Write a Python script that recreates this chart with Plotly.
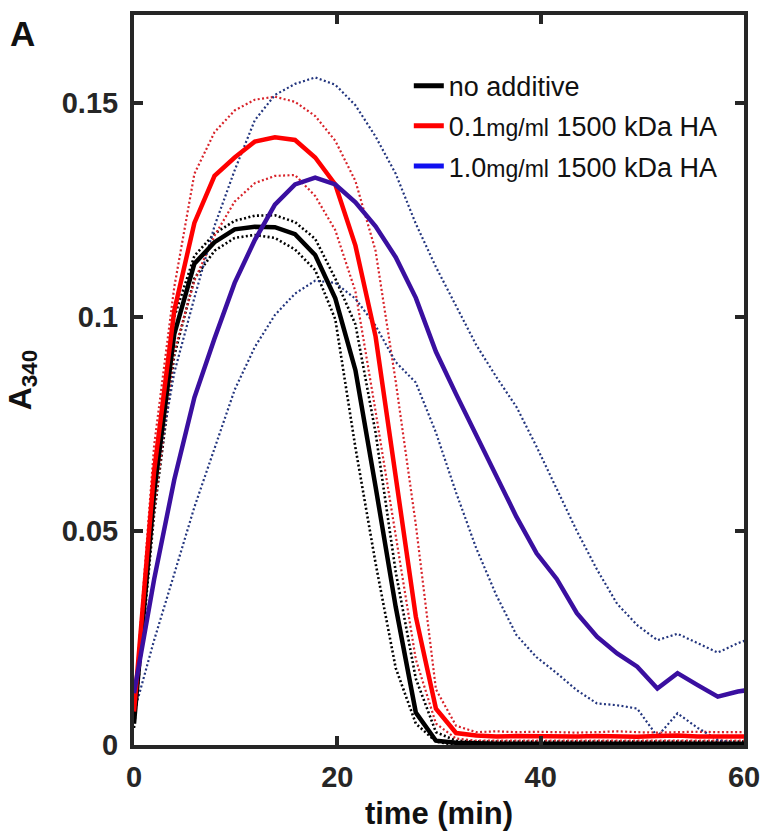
import plotly.graph_objects as go

# time (min), sampled every ~1.98 min
time = [0, 1.98, 3.96, 5.94, 7.92, 9.9, 11.88, 13.86, 15.84, 17.82, 19.8, 21.78,
        23.76, 25.74, 27.72, 29.7, 31.68, 33.66, 35.64, 37.62, 39.6, 41.58, 43.56,
        45.54, 47.52, 49.5, 51.48, 53.46, 55.44, 57.42, 59.4, 61.38]

# no additive
black_mean = [0.005, 0.059, 0.096, 0.1125, 0.1175, 0.1205, 0.1211, 0.121, 0.1194, 0.1145, 0.1044, 0.0876,
              0.0604, 0.0323, 0.0076, 0.001, 0.0005, 0.0003, 0.0003, 0.0003, 0.0003, 0.0003, 0.0003,
              0.0003, 0.0003, 0.0003, 0.0003, 0.0003, 0.0003, 0.0003, 0.0003, 0.0003]
black_hi = [0.006, 0.064, 0.1, 0.1143, 0.1195, 0.1225, 0.1237, 0.1238, 0.1222, 0.1183, 0.109, 0.0983,
            0.073, 0.0405, 0.0155, 0.003, 0.001, 0.0008, 0.0008, 0.0008, 0.0008, 0.0008, 0.0008,
            0.0008, 0.0008, 0.0008, 0.0008, 0.0008, 0.0008, 0.0008, 0.0008, 0.0008]
black_lo = [0.004, 0.054, 0.091, 0.109, 0.1155, 0.1185, 0.1192, 0.1185, 0.1158, 0.111, 0.0995, 0.0695,
            0.0425, 0.018, 0.005, 0.0008, 0.0, 0.0, 0.0, 0.0, 0.0, 0.0, 0.0,
            0.0, 0.0, 0.0, 0.0, 0.0, 0.0, 0.0, 0.0, 0.0]

# 0.1 mg/ml 1500 kDa HA
red_mean = [0.0078, 0.064, 0.1015, 0.122, 0.133, 0.1373, 0.141, 0.142, 0.1414, 0.1373, 0.131, 0.1167,
            0.0955, 0.062, 0.030, 0.0085, 0.0028, 0.0022, 0.002, 0.0021, 0.002, 0.0019, 0.002,
            0.0021, 0.002, 0.0019, 0.0021, 0.0022, 0.002, 0.0019, 0.002, 0.002]
red_hi = [0.008, 0.07, 0.107, 0.1335, 0.1432, 0.1483, 0.1508, 0.1515, 0.1503, 0.147, 0.1412, 0.1318,
          0.1155, 0.085, 0.0515, 0.013, 0.0045, 0.003, 0.0032, 0.003, 0.0031, 0.003, 0.0029,
          0.003, 0.0032, 0.003, 0.0029, 0.003, 0.0031, 0.003, 0.0029, 0.003]
red_lo = [0.007, 0.055, 0.092, 0.1085, 0.119, 0.127, 0.1313, 0.133, 0.1332, 0.1283, 0.1203, 0.106,
          0.078, 0.049, 0.02, 0.005, 0.0015, 0.001, 0.001, 0.001, 0.001, 0.001, 0.001,
          0.001, 0.001, 0.001, 0.001, 0.001, 0.001, 0.001, 0.001, 0.001]

# 1.0 mg/ml 1500 kDa HA
blue_mean = [0.0121, 0.0387, 0.062, 0.0812, 0.095, 0.108, 0.118, 0.1263, 0.131, 0.1326, 0.131, 0.1268,
             0.1212, 0.114, 0.1045, 0.0919, 0.082, 0.0725, 0.0628, 0.0533, 0.0448, 0.0388, 0.0308,
             0.0253, 0.0214, 0.0183, 0.0132, 0.0168, 0.014, 0.0113, 0.0125, 0.0132]
blue_hi = [0.0082, 0.06, 0.087, 0.1045, 0.1213, 0.1343, 0.146, 0.1519, 0.1545, 0.156, 0.1543, 0.1495,
           0.1422, 0.1335, 0.1218, 0.1117, 0.1026, 0.0935, 0.086, 0.079, 0.0697, 0.060, 0.050,
           0.041, 0.033, 0.028, 0.0245, 0.026, 0.0238, 0.0216, 0.0238, 0.0255]
blue_lo = [0.0075, 0.0245, 0.040, 0.0556, 0.0693, 0.083, 0.093, 0.1005, 0.1055, 0.1085, 0.108, 0.1043,
           0.098, 0.0895, 0.0847, 0.073, 0.059, 0.046, 0.035, 0.0257, 0.0205, 0.0168, 0.0128,
           0.0097, 0.0093, 0.0085, 0.002, 0.0074, 0.004, 0.0012, 0.0003, 0.0]

legend_names = ["no additive",
                '0.1<span style="font-size:23px">mg/ml</span> 1500 kDa HA',
                '1.0<span style="font-size:23px">mg/ml</span> 1500 kDa HA']
legend_colors = ["#000000", "#ff0000", "#1010f0"]

x_ticks = [0, 20, 40, 60]
y_ticks = [0, 0.05, 0.1, 0.15]
y_ticktext = ["0", "0.05", "0.1", "0.15"]

AX = "#262626"
FONT = "Liberation Sans, Arial, Helvetica, sans-serif"
DOT = "2px,2.4px"

fig = go.Figure()

bands = [
    (black_hi, black_lo, "#000000", 2.6),
    (red_hi, red_lo, "#d8232a", 2.2),
    (blue_hi, blue_lo, "#23357e", 2.2),
]
for hi, lo, col, w in bands:
    for arr in (hi, lo):
        fig.add_trace(go.Scatter(x=time, y=arr, mode="lines", showlegend=False,
                                 line=dict(color=col, width=w, dash=DOT)))

for arr, col in [(black_mean, "#000000"), (red_mean, "#ff0000"), (blue_mean, "#3a0fa0")]:
    fig.add_trace(go.Scatter(x=time, y=arr, mode="lines", showlegend=False,
                             line=dict(color=col, width=4.5)))

for i, (name, col) in enumerate(zip(legend_names, legend_colors)):
    fig.add_trace(go.Scatter(x=[None], y=[None], mode="lines", name=name,
                             legendgroup=f"g{i}", line=dict(color=col, width=5)))

fig.update_layout(
    width=766, height=837,
    margin=dict(l=134, r=22, t=15, b=92),
    plot_bgcolor="white", paper_bgcolor="white",
    font=dict(family=FONT, color=AX),
    legend=dict(x=0.4505, y=0.936, xanchor="left", yanchor="top",
                bgcolor="rgba(0,0,0,0)", borderwidth=0,
                font=dict(size=27, color="#111111", family=FONT),
                itemwidth=30, tracegroupgap=2),
    xaxis=dict(range=[0, 60], tickvals=x_ticks, ticks="inside", ticklen=9, tickwidth=4,
               tickcolor=AX, showline=True, linewidth=4, linecolor=AX, mirror="allticks",
               showgrid=False, zeroline=False, automargin=False, ticklabelstandoff=3,
               tickfont=dict(size=29, family=FONT, weight="bold", color=AX),
               title=dict(text="time (min)", standoff=12,
                          font=dict(size=31, family=FONT, weight="bold", color="#111111"))),
    yaxis=dict(range=[0, 0.1706], tickvals=y_ticks, ticktext=y_ticktext, ticks="inside",
               ticklen=9, tickwidth=4, tickcolor=AX, showline=True, linewidth=4, linecolor=AX,
               mirror="allticks", showgrid=False, zeroline=False, automargin=False,
               ticklabelstandoff=6,
               tickfont=dict(size=29, family=FONT, weight="bold", color=AX),
               title=dict(text="A<sub>340</sub>", standoff=22,
                          font=dict(size=32, family=FONT, weight="bold", color="#111111"))),
    annotations=[dict(text="<b>A</b>", xref="paper", yref="paper", x=-0.2066, y=0.974,
                      xanchor="left", yanchor="middle", showarrow=False,
                      font=dict(size=35, family=FONT, color="#111111"))],
)

fig.write_html("out.html", config={"displayModeBar": False},
               post_script="document.body.style.margin='0px';")
